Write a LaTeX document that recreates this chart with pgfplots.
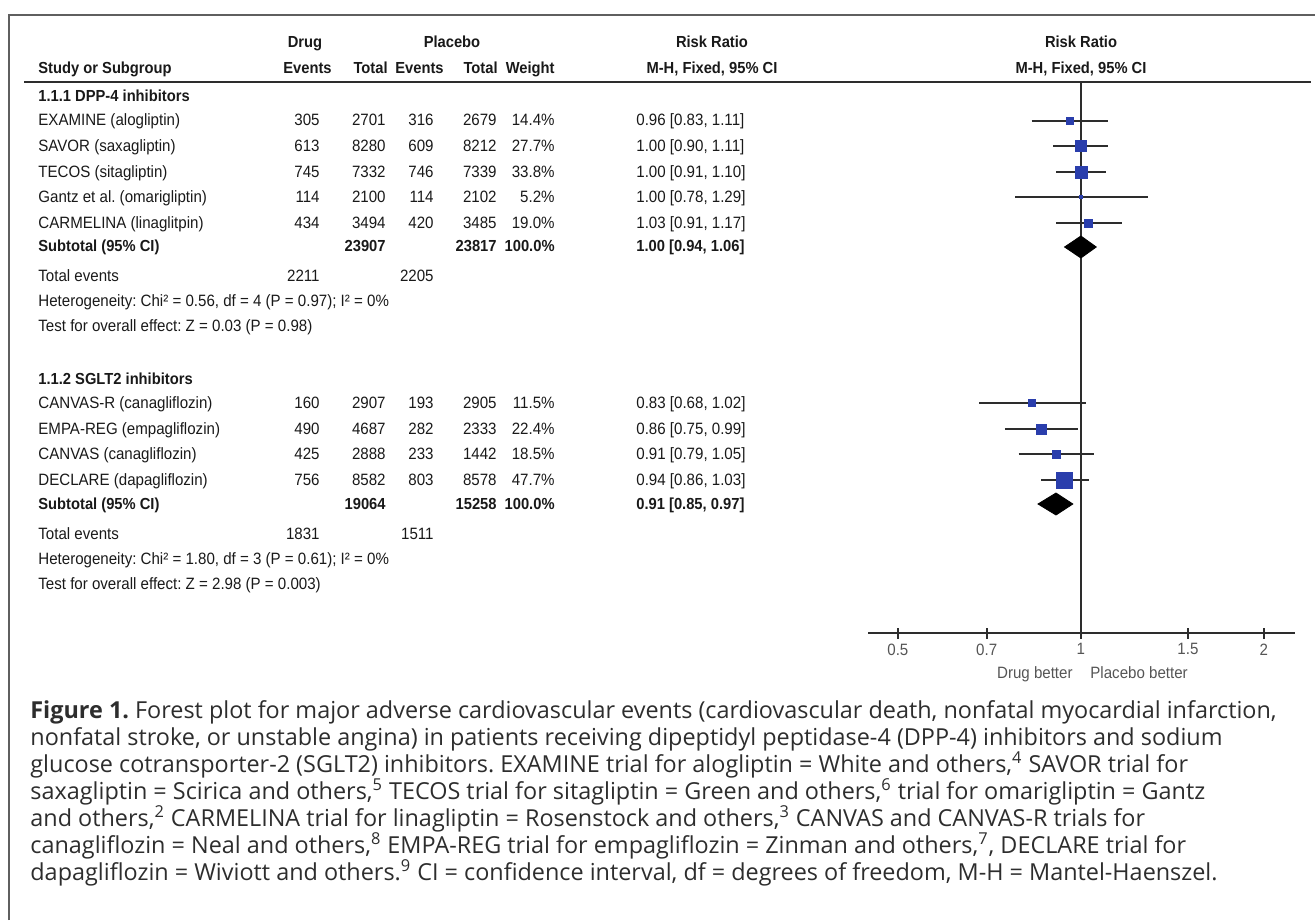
\documentclass[border=0pt]{standalone}
\usepackage{pgfplots}
\pgfplotsset{compat=1.18}
\usepackage{fontspec}
\setmainfont{Open Sans}
\newfontfamily\tabfont[FakeStretch=0.92]{Liberation Sans}
\definecolor{boxblue}{RGB}{42,62,172}
\definecolor{txt}{RGB}{25,25,25}
\definecolor{capgray}{RGB}{45,45,45}
\definecolor{tickgray}{RGB}{85,85,85}
\definecolor{framegray}{RGB}{95,95,95}
\definecolor{linegray}{RGB}{45,45,45}

% study rows: y = -(pixel row), risk ratio, CI, half side of the box (pt)
\pgfplotstableread{
y rr lo hi s
-121 0.96 0.83 1.11 1.75
-146 1.00 0.90 1.11 2.9
-172 1.00 0.91 1.10 3.0
-197 1.00 0.78 1.29 0.9
-223 1.03 0.91 1.17 2.0
-403 0.83 0.68 1.02 1.6
-429 0.86 0.75 0.99 2.5
-454 0.91 0.79 1.05 2.0
-480 0.94 0.86 1.03 4.0
}\studies

\newcommand{\tf}{\tabfont\fontsize{8.2}{9}\selectfont}
\newcommand{\tb}{\tabfont\bfseries\fontsize{8.0}{9}\selectfont}

\begin{document}
\frenchspacing
\begin{tikzpicture}
\begin{scope}[x=0.5pt,y=-0.5pt]
\path[use as bounding box] (0,0) rectangle (1315,920);
\draw[framegray, line width=1pt] (9,920) -- (9,15) -- (1320,15);
\draw[linegray, line width=0.9pt] (24,82) -- (1311,82);
\end{scope}

\begin{axis}[
  at={(434pt,-316.5pt)}, anchor=south west,
  scale only axis, width=213.5pt, height=275.5pt,
  xmode=log, xmin=0.4465, xmax=2.25, ymin=-633, ymax=-82,
  axis x line*=bottom, axis y line=none,
  axis line style={draw=linegray, line width=0.9pt},
  xtick={0.5,0.7,1,1.5,2}, xticklabels={0.5,0.7,1,1.5,2},
  minor xtick={},
  tick align=center, major tick length=5.5pt,
  xtick style={draw=linegray, line width=0.9pt},
  xticklabel style={font=\tf, text=tickgray, yshift=1pt},
  clip=false,
]
\addplot[linegray, line width=0.9pt] coordinates {(1,-633) (1,-82)};
\addplot[linegray, line width=1pt, unbounded coords=jump] table {
x y
0.83 -121
1.11 -121
nan nan
0.90 -146
1.11 -146
nan nan
0.91 -172
1.10 -172
nan nan
0.78 -197
1.29 -197
nan nan
0.91 -223
1.17 -223
nan nan
0.68 -403
1.02 -403
nan nan
0.75 -429
0.99 -429
nan nan
0.79 -454
1.05 -454
nan nan
0.86 -480
1.03 -480
};
\addplot[scatter, only marks, mark=square*,
  scatter/use mapped color={draw=boxblue, fill=boxblue},
  visualization depends on={\thisrow{s} \as \msz},
  scatter/@pre marker code/.append style={/tikz/mark size=\msz}]
  table[x=rr, y=y] {\studies};
\addplot[fill=black, draw=black] coordinates {(0.94,-247) (1,-236) (1.06,-247) (1,-258)} -- cycle;
\addplot[fill=black, draw=black] coordinates {(0.85,-504) (0.91,-493) (0.97,-504) (0.91,-515)} -- cycle;
\end{axis}

\begin{scope}[x=0.5pt,y=-0.5pt, every node/.style={inner sep=0pt, text=txt}]
% header
\node[anchor=base, font=\tb] at (305,48) {Drug};
\node[anchor=base, font=\tb] at (452,48) {Placebo};
\node[anchor=base, font=\tb] at (712,48) {Risk Ratio};
\node[anchor=base, font=\tb] at (1081,48) {Risk Ratio};
\node[anchor=base west, font=\tb] at (38,74) {Study or Subgroup};
\node[anchor=base east, font=\tb] at (332,74) {Events};
\node[anchor=base east, font=\tb] at (388,74) {Total};
\node[anchor=base east, font=\tb] at (444,74) {Events};
\node[anchor=base east, font=\tb] at (498,74) {Total};
\node[anchor=base east, font=\tb] at (555,74) {Weight};
\node[anchor=base, font=\tb] at (712,74) {M-H, Fixed, 95\% CI};
\node[anchor=base, font=\tb] at (1081,74) {M-H, Fixed, 95\% CI};
% block 1
\node[anchor=base west, font=\tb] at (38,102) {1.1.1 DPP-4 inhibitors};
\foreach \yy/\name/\de/\dt/\pe/\pt/\w/\ci in {
 126/EXAMINE (alogliptin)/305/2701/316/2679/14.4\%/{0.96 [0.83, 1.11]},
 151/SAVOR (saxagliptin)/613/8280/609/8212/27.7\%/{1.00 [0.90, 1.11]},
 177/TECOS (sitagliptin)/745/7332/746/7339/33.8\%/{1.00 [0.91, 1.10]},
 202/Gantz et al. (omarigliptin)/114/2100/114/2102/5.2\%/{1.00 [0.78, 1.29]},
 228/CARMELINA (linaglitpin)/434/3494/420/3485/19.0\%/{1.03 [0.91, 1.17]},
 408/CANVAS-R (canagliflozin)/160/2907/193/2905/11.5\%/{0.83 [0.68, 1.02]},
 434/EMPA-REG (empagliflozin)/490/4687/282/2333/22.4\%/{0.86 [0.75, 0.99]},
 459/CANVAS (canagliflozin)/425/2888/233/1442/18.5\%/{0.91 [0.79, 1.05]},
 485/DECLARE (dapagliflozin)/756/8582/803/8578/47.7\%/{0.94 [0.86, 1.03]}}{
  \node[anchor=base west, font=\tf] at (38,\yy) {\name};
  \node[anchor=base east, font=\tf] at (320,\yy) {\de};
  \node[anchor=base east, font=\tf] at (386,\yy) {\dt};
  \node[anchor=base east, font=\tf] at (434,\yy) {\pe};
  \node[anchor=base east, font=\tf] at (497,\yy) {\pt};
  \node[anchor=base east, font=\tf] at (555,\yy) {\w};
  \node[anchor=base west, font=\tf] at (636,\yy) {\ci};
}
\node[anchor=base west, font=\tb] at (38,251) {Subtotal (95\% CI)};
\node[anchor=base east, font=\tb] at (386,251) {23907};
\node[anchor=base east, font=\tb] at (497,251) {23817};
\node[anchor=base east, font=\tb] at (555,251) {100.0\%};
\node[anchor=base west, font=\tb] at (636,251) {1.00 [0.94, 1.06]};
\node[anchor=base west, font=\tf] at (38,281) {Total events};
\node[anchor=base east, font=\tf] at (320,281) {2211};
\node[anchor=base east, font=\tf] at (434,281) {2205};
\node[anchor=base west, font=\tf] at (38,306) {Heterogeneity: Chi² = 0.56, df = 4 (P = 0.97); I² = 0\%};
\node[anchor=base west, font=\tf] at (38,331) {Test for overall effect: Z = 0.03 (P = 0.98)};
% block 2
\node[anchor=base west, font=\tb] at (38,384) {1.1.2 SGLT2 inhibitors};
\node[anchor=base west, font=\tb] at (38,509) {Subtotal (95\% CI)};
\node[anchor=base east, font=\tb] at (386,509) {19064};
\node[anchor=base east, font=\tb] at (497,509) {15258};
\node[anchor=base east, font=\tb] at (555,509) {100.0\%};
\node[anchor=base west, font=\tb] at (636,509) {0.91 [0.85, 0.97]};
\node[anchor=base west, font=\tf] at (38,539) {Total events};
\node[anchor=base east, font=\tf] at (320,539) {1831};
\node[anchor=base east, font=\tf] at (434,539) {1511};
\node[anchor=base west, font=\tf] at (38,564) {Heterogeneity: Chi² = 1.80, df = 3 (P = 0.61); I² = 0\%};
\node[anchor=base west, font=\tf] at (38,589) {Test for overall effect: Z = 2.98 (P = 0.003)};
% axis captions
\node[anchor=base east, font=\tf, text=tickgray] at (1073,678) {Drug better};
\node[anchor=base west, font=\tf, text=tickgray] at (1090,678) {Placebo better};
% figure caption
\node[anchor=base west, align=left, text=capgray, font=\fontsize{11.7}{13.5}\selectfont] at (30,880) {%
\textbf{Figure 1.} Forest plot for major adverse cardiovascular events (cardiovascular death, nonfatal myocardial infarction,\\
nonfatal stroke, or unstable angina) in patients receiving dipeptidyl peptidase-4 (DPP-4) inhibitors and sodium\\
glucose cotransporter-2 (SGLT2) inhibitors. EXAMINE trial for alogliptin = White and others,\textsuperscript{4} SAVOR trial for\\
saxagliptin = Scirica and others,\textsuperscript{5} TECOS trial for sitagliptin = Green and others,\textsuperscript{6} trial for omarigliptin = Gantz\\
and others,\textsuperscript{2} CARMELINA trial for linagliptin = Rosenstock and others,\textsuperscript{3} CANVAS and CANVAS-R trials for\\
canagliflozin = Neal and others,\textsuperscript{8} EMPA-REG trial for empagliflozin = Zinman and others,\textsuperscript{7}, DECLARE trial for\\
dapagliflozin = Wiviott and others.\textsuperscript{9} CI = confidence interval, df = degrees of freedom, M-H = Mantel-Haenszel.};
\end{scope}
\end{tikzpicture}
\end{document}
